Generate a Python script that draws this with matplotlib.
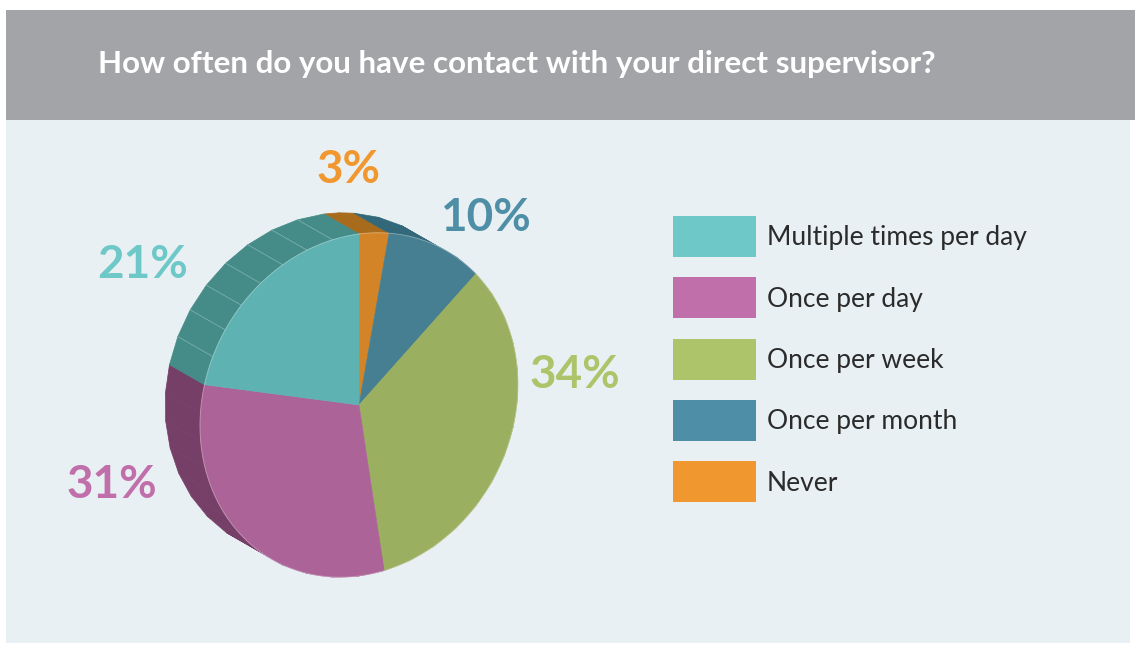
import numpy as np
import matplotlib.pyplot as plt
from matplotlib.patches import Polygon, Rectangle

# data
title = "How often do you have contact with your direct supervisor?"
categories = ["Multiple times per day", "Once per day", "Once per week",
              "Once per month", "Never"]
values = [21, 31, 34, 10, 3]
pct_labels = ["21%", "31%", "34%", "10%", "3%"]

legend_colors = ['#6ec8c8', '#c06fab', '#adc46b', '#4e8ea6', '#f0972f']
face_colors = ['#5fb2b2', '#ab6398', '#9aaf5f', '#467f91', '#d28427']
side_colors = ['#458b87', '#763f67', '#7d9048', '#33687a', '#a86b1b']
pie_order = [4, 3, 2, 1, 0]  # clockwise from 12 o'clock

# label anchors (pixels)
label_pos = [(143, 265), (112, 485), (575, 375), (485, 218), (349, 170)]

# pie geometry, image pixel coords (y down)
CX, CY = 359, 405
RX, SHEAR, RY = 159, 20.6, 171
DEPTH = (-35, -20)


def pt(theta, off=(0, 0)):
    t = np.radians(theta)
    s, c = np.sin(t), np.cos(t)
    return (CX + RX * s + off[0], CY - (SHEAR * s + RY * c) + off[1])


W, H = 1135, 645
fig = plt.figure(figsize=(W / 100, H / 100), dpi=100)
fig.patch.set_facecolor('white')
ax = fig.add_axes([0, 0, 1, 1])
ax.set_xlim(0, W)
ax.set_ylim(H, 0)
ax.axis('off')

ax.add_patch(Rectangle((6, 10), W - 6, 110, color='#a3a4a8', lw=0))
ax.add_patch(Rectangle((6, 120), 1124, 523, color='#e8f0f3', lw=0))
ax.text(98, 64, title, color='white', fontsize=22.6, fontweight='bold',
        family='Lato', va='center', ha='left')

# angles per slice
fracs = np.array(values, dtype=float) / sum(values)
start = 0.0
spans = {}
for i in pie_order:
    spans[i] = (start, start + fracs[i] * 360)
    start += fracs[i] * 360

# side bands
for i in pie_order:
    t1, t2 = spans[i]
    nseg = max(2, int(round((t2 - t1) / 9.5)))
    th = np.linspace(t1, t2, nseg + 1)
    for a, b in zip(th[:-1], th[1:]):
        quad = [pt(a), pt(b), pt(b, DEPTH), pt(a, DEPTH)]
        ax.add_patch(Polygon(quad, closed=True, facecolor=side_colors[i],
                             edgecolor=side_colors[i], lw=0.5, zorder=2))
    if i == 0:
        for a in th[1:-1]:
            p0, p1 = pt(a), pt(a, DEPTH)
            ax.plot([p0[0], p1[0]], [p0[1], p1[1]], color='#78b1ad',
                    lw=0.6, zorder=2.5)

# front face
for i in pie_order:
    t1, t2 = spans[i]
    th = np.linspace(t1, t2, 80)
    poly = [(CX, CY)] + [pt(a) for a in th]
    ax.add_patch(Polygon(poly, closed=True, facecolor=face_colors[i],
                         edgecolor=face_colors[i], lw=0.4, zorder=3))
arc = np.array([pt(a) for a in np.linspace(0, 360, 360)])
ax.plot(arc[:, 0], arc[:, 1], color='white', alpha=0.3, lw=0.7, zorder=3.5)

# percentage labels
for i, lab in enumerate(pct_labels):
    x, y = label_pos[i]
    ax.text(x, y, lab, color=legend_colors[i], fontsize=33, fontweight='bold',
            family='Lato', ha='center', va='center', zorder=4)

# legend
for k, cat in enumerate(categories):
    y0 = 216 + k * 61.3
    ax.add_patch(Rectangle((673, y0), 83, 41, color=legend_colors[k], lw=0))
    ax.text(767, y0 + 22, cat, color='#2b2b2b', fontsize=19, family='Lato',
            ha='left', va='center')

fig.savefig('out.png', dpi=100)
